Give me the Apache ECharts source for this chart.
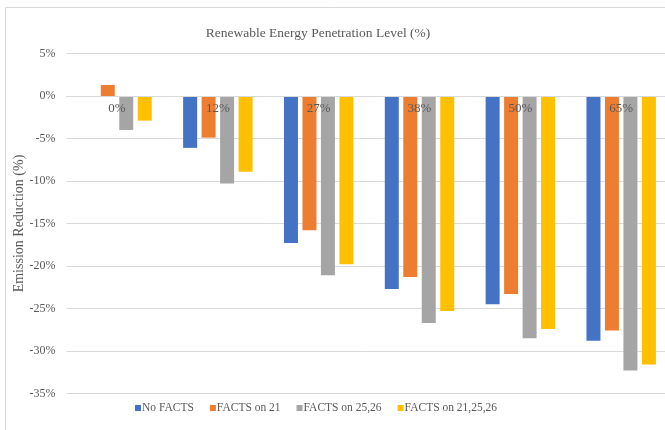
<!DOCTYPE html>
<html>
<head>
<meta charset="utf-8">
<script src="https://cdn.jsdelivr.net/npm/echarts@6/dist/echarts.min.js"></script>
<style>html,body{margin:0;padding:0;background:#fff}#c{width:665px;height:430px}</style>
</head>
<body>
<div id="c"></div>
<script>
const categories = ['0%', '12%', '27%', '38%', '50%', '65%'];
const seriesNames = ['No FACTS', 'FACTS on 21', 'FACTS on 25,26', 'FACTS on 21,25,26'];
const noFacts = [0, -6.1, -17.3, -22.7, -24.5, -28.8];
const facts21 = [1.3, -4.9, -15.8, -21.3, -23.3, -27.6];
const facts2526 = [-4.0, -10.3, -21.1, -26.7, -28.5, -32.3];
const facts212526 = [-2.9, -8.9, -19.8, -25.3, -27.4, -31.6];
const colors = ['#4472C4', '#ED7D31', '#A5A5A5', '#FFC000'];
const values = [noFacts, facts21, facts2526, facts212526];

const font = '"Liberation Serif", "Times New Roman", serif';
const txt = '#595959';
const gridTop = 53.5, gridBottom = 36.5;

const chart = echarts.init(document.getElementById('c'), null, {renderer: 'canvas'});
chart.setOption({
  animation: false,
  color: colors,
  title: {
    text: 'Renewable Energy Penetration Level (%)',
    left: 313, top: 21, textAlign: 'center',
    textStyle: {fontFamily: font, fontSize: 13.5, fontWeight: 'normal', color: txt}
  },
  graphic: [{
    type: 'rect', shape: {x: 5.5, y: 7.5, width: 700, height: 440},
    style: {fill: 'none', stroke: '#d9d9d9', lineWidth: 1}, silent: true
  }],
  legend: {
    bottom: 11, left: 130,
    itemWidth: 6, itemHeight: 6, itemGap: 16, icon: 'rect',
    data: seriesNames,
    textStyle: {fontFamily: font, fontSize: 11.5, color: txt, padding: [0, 0, 0, -4]}
  },
  grid: {left: 66.6, width: 605, top: gridTop, bottom: gridBottom, outerBoundsMode: 'none', containLabel: false},
  xAxis: {
    type: 'category', data: categories, z: 10,
    axisLine: {onZero: false, lineStyle: {color: '#d9d9d9', width: 1}},
    axisTick: {show: false},
    axisLabel: {fontFamily: font, fontSize: 13, color: txt, margin: 6}
  },
  yAxis: {
    type: 'value', min: -35, max: 5, interval: 5,
    name: 'Emission Reduction (%)', nameLocation: 'middle', nameGap: 40,
    nameMoveOverlap: false,
    nameTextStyle: {fontFamily: font, fontSize: 14, color: txt},
    axisLine: {show: false}, axisTick: {show: false},
    axisLabel: {fontFamily: font, fontSize: 12, color: txt, margin: 11, formatter: v => v + '%'},
    splitLine: {lineStyle: {color: '#d9d9d9', width: 1}}
  },
  series: seriesNames.map((n, i) => ({
    name: n, type: 'bar', data: values[i],
    barWidth: 14, barGap: '32%',
    itemStyle: {color: colors[i]}
  }))
});
// move the category axis (with its labels) to the zero line
const zeroY = chart.convertToPixel({yAxisIndex: 0}, 0);
const bottomY = chart.getHeight() - gridBottom;
chart.setOption({xAxis: {offset: -(bottomY - zeroY)}});
</script>
</body>
</html>
